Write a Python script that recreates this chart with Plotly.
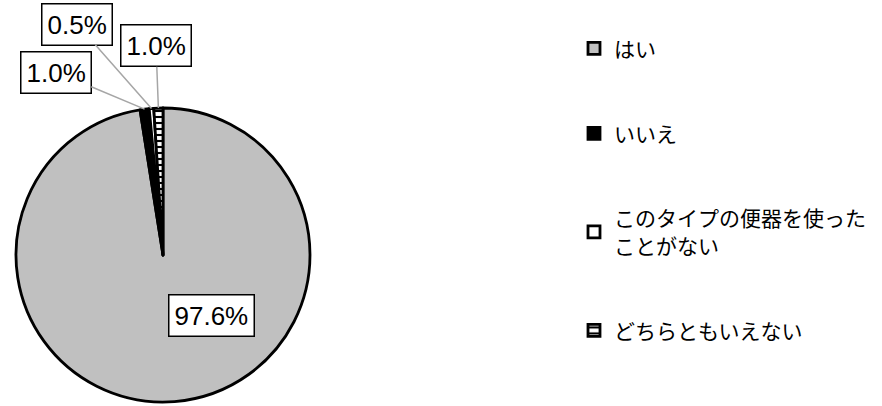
import math
import plotly.graph_objects as go

labels = ["はい", "いいえ", "このタイプの便器を使った<br>ことがない", "どちらともいえない"]
values = [97.6, 1.0, 0.5, 1.0]
value_text = ["97.6%", "1.0%", "0.5%", "1.0%"]

W, H = 882, 406
cx, cy, R = 163, 255, 147  # pie centre / radius in pixels

# legend text padded with blank lines so entries spread out like the original
legend_labels = ["&nbsp;<br>" + lab + "<br>&nbsp;" for lab in labels]

fig = go.Figure()
fig.add_trace(go.Pie(
    labels=legend_labels,
    values=values,
    sort=False,
    direction="clockwise",
    rotation=0,
    textinfo="none",
    hoverinfo="skip",
    marker=dict(
        colors=["#c0c0c0", "#000000", "#ffffff", "#ffffff"],
        line=dict(color="#000000", width=2.8),
        pattern=dict(shape=["", "", "", "-"], fgcolor="#000000",
                     bgcolor="#ffffff", size=6, solidity=0.35),
    ),
    domain=dict(x=[(cx - R) / W, (cx + R) / W], y=[(H - cy - R) / H, (H - cy + R) / H]),
))

# label boxes (pixel centres) and leader lines to the slice edge
label_pos = [(211, 315), (56, 72), (77, 24), (156, 46)]
total = sum(values)
cum = 0
for i, v in enumerate(values):
    mid = (cum + v / 2) / total * 2 * math.pi
    cum += v
    px = cx + R * math.sin(mid)
    py = cy - R * math.cos(mid)
    lx, ly = label_pos[i]
    ann = dict(
        text=value_text[i],
        xref="paper", yref="paper",
        font=dict(family="Liberation Sans, Arial", size=26, color="#000000"),
        bgcolor="#ffffff", bordercolor="#000000", borderwidth=1.5, borderpad=5,
    )
    if i == 0:
        ann.update(x=lx / W, y=1 - ly / H, showarrow=False,
                   xanchor="center", yanchor="middle")
    else:
        ann.update(x=px / W, y=1 - py / H, showarrow=True, arrowhead=0,
                   arrowwidth=1.5, arrowcolor="#a6a6a6", standoff=0,
                   ax=lx - px, ay=ly - py)
    fig.add_annotation(**ann)

fig.update_layout(
    width=W, height=H,
    margin=dict(l=0, r=0, t=0, b=0),
    paper_bgcolor="#ffffff",
    showlegend=True,
    legend=dict(
        x=574 / W, xanchor="left",
        y=1 - 1 / H, yanchor="top",
        font=dict(family="Noto Sans CJK JP", size=21, color="#000000"),
        valign="middle",
        itemwidth=30,
    ),
)

fig.write_html("out.html", config={"displayModeBar": False},
               post_script="document.body.style.margin='0';")
